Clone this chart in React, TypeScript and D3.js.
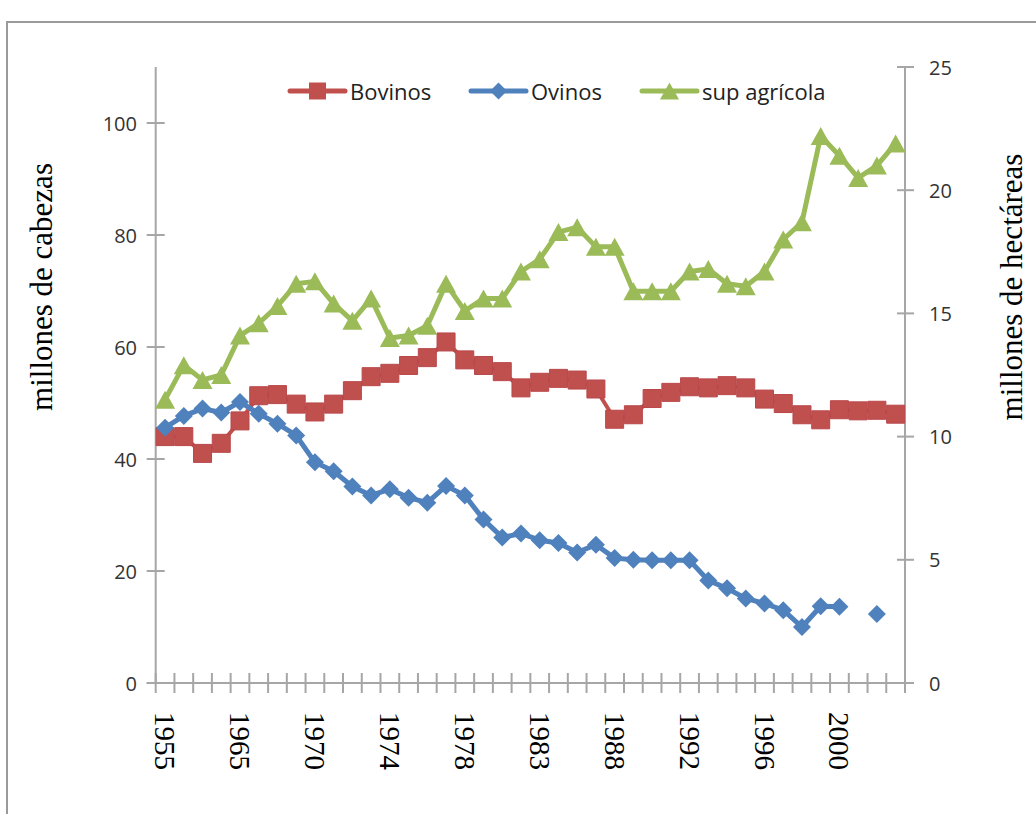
import React from 'react';
import * as d3 from 'd3';

const categories = [
  '1955', '1958', '1960', '1962', '1965', '1966', '1967', '1968', '1970', '1971',
  '1972', '1973', '1974', '1975', '1976', '1977', '1978', '1979', '1980', '1981',
  '1983', '1984', '1985', '1986', '1988', '1989', '1990', '1991', '1992', '1993',
  '1994', '1995', '1996', '1997', '1998', '1999', '2000', '2001', '2002', '2003',
];
const labelledYears = ['1955', '1965', '1970', '1974', '1978', '1983', '1988', '1992', '1996', '2000'];

const bovinos: (number | null)[] = [
  44.0, 44.0, 41.0, 42.8, 46.8, 51.3, 51.5, 49.8, 48.4, 49.8,
  52.2, 54.7, 55.3, 56.7, 58.1, 60.9, 57.7, 56.7, 55.6, 52.7,
  53.7, 54.4, 54.1, 52.5, 47.1, 47.9, 50.8, 51.9, 52.9, 52.7,
  53.1, 52.7, 50.7, 49.9, 47.9, 47.0, 48.8, 48.6, 48.7, 48.0,
];
const ovinos: (number | null)[] = [
  45.6, 47.7, 49.0, 48.3, 50.2, 48.1, 46.3, 44.2, 39.4, 37.8,
  35.1, 33.5, 34.6, 33.1, 32.2, 35.2, 33.5, 29.2, 26.0, 26.7,
  25.5, 25.0, 23.3, 24.7, 22.3, 22.0, 21.9, 21.9, 21.9, 18.3,
  16.9, 15.1, 14.2, 13.0, 10.0, 13.7, 13.6, null, 12.3, null,
];
const supAgricola: (number | null)[] = [
  11.5, 12.9, 12.3, 12.5, 14.1, 14.6, 15.3, 16.2, 16.3, 15.4,
  14.7, 15.6, 14.0, 14.1, 14.5, 16.2, 15.1, 15.6, 15.6, 16.7,
  17.2, 18.3, 18.5, 17.7, 17.7, 15.9, 15.9, 15.9, 16.7, 16.8,
  16.2, 16.1, 16.7, 18.0, 18.7, 22.2, 21.4, 20.5, 21.0, 21.9,
];

const leftTicks = [0, 20, 40, 60, 80, 100];
const rightTicks = [0, 5, 10, 15, 20, 25];
const seriesNames = ['Bovinos', 'Ovinos', 'sup agrícola'];

const RED = '#C0504D';
const BLUE = '#4F81BD';
const GREEN = '#9BBB59';
const AXIS = '#a6a6a6';

const squarePath = (s: number) => `M${-s / 2},${-s / 2}h${s}v${s}h${-s}Z`;
const diamondPath = (r: number) => `M0,${-r}L${r},0L0,${r}L${-r},0Z`;
const trianglePath = (w: number, h: number) => `M0,${-h / 2}L${w / 2},${h / 2}L${-w / 2},${h / 2}Z`;

export default function App() {
  const W = 1036;
  const H = 814;
  const x0 = 155.7;
  const x1 = 905;
  const yTop = 67;
  const yBot = 683;

  const x = d3.scaleBand<string>().domain(categories).range([x0, x1]);
  const yL = d3.scaleLinear().domain([0, 110]).range([yBot, yTop]);
  const yR = d3.scaleLinear().domain([0, 25]).range([yBot, yTop]);
  const cx = (i: number) => (x(categories[i]) as number) + x.bandwidth() / 2;

  const mkLine = (scale: d3.ScaleLinear<number, number>) =>
    d3
      .line<number | null>()
      .defined((d) => d != null)
      .x((_, i) => cx(i))
      .y((d) => scale(d as number));

  const boundaries = d3.range(categories.length + 1).map((k) => x0 + k * x.step());

  const sans = "'Open Sans', 'Liberation Sans', sans-serif";
  const serif = "'Liberation Serif', 'DejaVu Serif', serif";

  const legendY = 91;
  const legend = [
    { name: seriesNames[0], x: 290, color: RED, marker: squarePath(17) },
    { name: seriesNames[1], x: 471, color: BLUE, marker: diamondPath(8.5) },
    { name: seriesNames[2], x: 642, color: GREEN, marker: trianglePath(19, 17) },
  ];

  return (
    <svg
      width={W}
      height={H}
      style={{ position: 'absolute', left: 0, top: 0, background: '#fff' }}
    >
      <rect x={0} y={0} width={W} height={H} fill="#fff" />
      <rect x={7} y={22} width={1100} height={900} fill="#fff" stroke="#9a9a9a" strokeWidth={2} />

      {/* left axis */}
      <line x1={x0} x2={x0} y1={yTop} y2={yBot} stroke={AXIS} strokeWidth={2} />
      {leftTicks.map((t) => (
        <g key={'l' + t}>
          <line x1={x0 - 9} x2={x0 + 9} y1={yL(t)} y2={yL(t)} stroke={AXIS} strokeWidth={2} />
          <text
            x={137}
            y={yL(t)}
            textAnchor="end"
            dominantBaseline="central"
            fontFamily={sans}
            fontSize={20}
            fill="#333"
          >
            {t}
          </text>
        </g>
      ))}

      {/* right axis */}
      <line x1={x1} x2={x1} y1={yTop} y2={yBot} stroke={AXIS} strokeWidth={2} />
      {rightTicks.map((t) => (
        <g key={'r' + t}>
          <line x1={x1 - 8} x2={x1 + 9} y1={yR(t)} y2={yR(t)} stroke={AXIS} strokeWidth={2} />
          <text
            x={929}
            y={yR(t)}
            textAnchor="start"
            dominantBaseline="central"
            fontFamily={sans}
            fontSize={20}
            fill="#333"
          >
            {t}
          </text>
        </g>
      ))}

      {/* x axis */}
      <line x1={x0 - 9} x2={x1 + 9} y1={yBot} y2={yBot} stroke={AXIS} strokeWidth={2} />
      {boundaries.map((b, k) => (
        <line key={'xt' + k} x1={b} x2={b} y1={yBot - 10} y2={yBot + 10} stroke={AXIS} strokeWidth={2} />
      ))}
      {categories.map((c, i) =>
        labelledYears.includes(c) ? (
          <text
            key={'xl' + c}
            transform={`translate(${cx(i)},712) rotate(90)`}
            textAnchor="start"
            dominantBaseline="central"
            fontFamily={serif}
            fontSize={29}
            fill="#000"
          >
            {c}
          </text>
        ) : null
      )}

      {/* axis titles */}
      <text
        transform="translate(41,287) rotate(-90)"
        textAnchor="middle"
        dominantBaseline="central"
        fontFamily={serif}
        fontSize={31}
        fill="#000"
      >
        millones de cabezas
      </text>
      <text
        transform="translate(1011,287) rotate(-90)"
        textAnchor="middle"
        dominantBaseline="central"
        fontFamily={serif}
        fontSize={31}
        fill="#000"
      >
        millones de hectáreas
      </text>

      {/* Bovinos */}
      <path d={mkLine(yL)(bovinos) || ''} fill="none" stroke={RED} strokeWidth={4} strokeLinejoin="round" />
      {bovinos.map((v, i) =>
        v == null ? null : (
          <path key={'b' + i} d={squarePath(18)} transform={`translate(${cx(i)},${yL(v)})`} fill={RED} stroke="#b9474a" strokeWidth={1} />
        )
      )}

      {/* Ovinos */}
      <path d={mkLine(yL)(ovinos) || ''} fill="none" stroke={BLUE} strokeWidth={5} strokeLinejoin="round" />
      {ovinos.map((v, i) =>
        v == null ? null : (
          <path key={'o' + i} d={diamondPath(9)} transform={`translate(${cx(i)},${yL(v)})`} fill={BLUE} />
        )
      )}

      {/* sup agrícola */}
      <path d={mkLine(yR)(supAgricola) || ''} fill="none" stroke={GREEN} strokeWidth={5} strokeLinejoin="round" />
      {supAgricola.map((v, i) =>
        v == null ? null : (
          <path key={'g' + i} d={trianglePath(20, 18)} transform={`translate(${cx(i)},${yR(v)})`} fill={GREEN} />
        )
      )}

      {/* legend */}
      {legend.map((l) => (
        <g key={l.name}>
          <line x1={l.x} x2={l.x + 55} y1={legendY} y2={legendY} stroke={l.color} strokeWidth={5} strokeLinecap="round" />
          <path d={l.marker} transform={`translate(${l.x + 27.5},${legendY})`} fill={l.color} />
          <text
            x={l.x + 60}
            y={legendY}
            dominantBaseline="central"
            fontFamily={sans}
            fontSize={22}
            fill="#222"
          >
            {l.name}
          </text>
        </g>
      ))}
    </svg>
  );
}
